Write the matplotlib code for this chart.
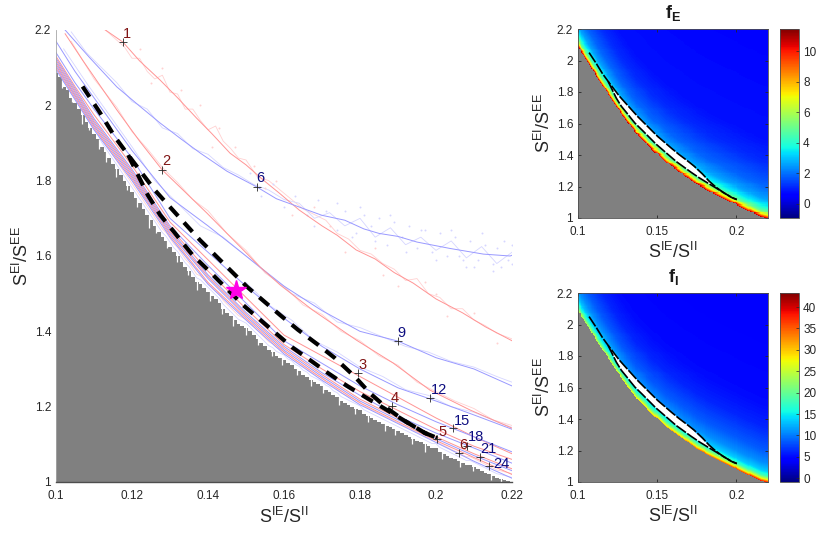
import numpy as np
import matplotlib
matplotlib.use("Agg")
import matplotlib.pyplot as plt

plt.rcParams['font.family'] = ['Liberation Sans', 'DejaVu Sans']
plt.rcParams['mathtext.fontset'] = 'custom'
plt.rcParams['mathtext.rm'] = 'Liberation Sans'
plt.rcParams['mathtext.bf'] = 'Liberation Sans:bold'
plt.rcParams['mathtext.default'] = 'regular'

# ---------- curves ----------
grid_x = [.10, .105, .11, .12, .13, .14, .15, .16, .17, .18, .19, .20, .21, .22]
b9 = [2.17, 2.09, 2.02, 1.88, 1.755, 1.68, 1.60, 1.52, 1.455, 1.40, 1.374, 1.33, 1.30, 1.255]
b12 = [2.14, 2.06, 1.99, 1.86, 1.70, 1.61, 1.52, 1.435, 1.36, 1.30, 1.25, 1.215, 1.178, 1.14]
r3 = [2.13, 2.05, 1.975, 1.84, 1.69, 1.59, 1.49, 1.39, 1.335, 1.28, 1.225, 1.17, 1.12, 1.075]
b15 = [2.125, 2.045, 1.965, 1.83, 1.68, 1.575, 1.475, 1.375, 1.315, 1.255, 1.205, 1.16, 1.12, 1.08]
r4 = [2.12, 2.04, 1.96, 1.825, 1.675, 1.56, 1.46, 1.365, 1.30, 1.24, 1.19, 1.14, 1.095, 1.06]
b18 = [2.115, 2.035, 1.955, 1.82, 1.67, 1.55, 1.45, 1.36, 1.29, 1.23, 1.175, 1.13, 1.09, 1.05]
r5 = [2.11, 2.03, 1.95, 1.815, 1.665, 1.545, 1.445, 1.355, 1.285, 1.22, 1.17, 1.12, 1.075, 1.035]
b21 = [2.105, 2.025, 1.945, 1.81, 1.66, 1.54, 1.44, 1.35, 1.28, 1.215, 1.165, 1.115, 1.07, 1.03]
r6 = [2.10, 2.02, 1.94, 1.805, 1.655, 1.53, 1.435, 1.345, 1.275, 1.21, 1.16, 1.11, 1.065, 1.02]
b24 = [2.095, 2.015, 1.935, 1.80, 1.65, 1.525, 1.43, 1.34, 1.27, 1.205, 1.155, 1.105, 1.055, 1.01]

r1_x = [.113, .1176, .122, .1274, .132, .137, .141, .1458, .150, .1545, .159, .164, .17, .174, .179, .184, .189, .194, .20, .207, .213, .22]
r1_y = [2.2, 2.168, 2.118, 2.067, 2.02, 1.966, 1.925, 1.873, 1.842, 1.802, 1.765, 1.722, 1.68, 1.655, 1.616, 1.592, 1.556, 1.528, 1.486, 1.449, 1.412, 1.375]
b6_x = [.1024, .109, .116, .122, .1274, .133, .138, .145, .1529, .158, .164, .170, .176, .181, .185, .190, .195, .2037, .2125, .2195, .22]
b6_y = [2.2, 2.125, 2.049, 1.998, 1.953, 1.91, 1.873, 1.825, 1.783, 1.752, 1.73, 1.708, 1.695, 1.672, 1.66, 1.652, 1.637, 1.62, 1.605, 1.600, 1.602]
r2_x = [.1024, .107, .116, .122, .128, .1397, .1537, .159, .1676, .179, .1887, .1984, .209, .22]
r2_y = [2.19, 2.12, 1.988, 1.905, 1.828, 1.714, 1.571, 1.523, 1.456, 1.377, 1.316, 1.244, 1.191, 1.143]

r1_pale_x = [.108, .113, .118, .120, .122, .124, .126, .128, .130, .132, .134, .136, .138, .140, .142, .144, .146, .148, .150, .153, .156, .159, .162, .165, .168, .171, .174, .177, .18, .183, .186, .189, .192, .195, .198, .201, .204, .207, .21, .213, .216, .22]
r1_pale_y = [2.215, 2.2, 2.155, 2.125, 2.125, 2.09, 2.07, 2.08, 2.035, 2.03, 1.99, 1.99, 1.96, 1.935, 1.945, 1.905, 1.885, 1.86, 1.855, 1.81, 1.80, 1.775, 1.75, 1.725, 1.71, 1.695, 1.66, 1.645, 1.615, 1.605, 1.58, 1.565, 1.535, 1.54, 1.50, 1.49, 1.46, 1.46, 1.43, 1.415, 1.395, 1.38]
b6_pale_x = [.104, .108, .112, .116, .12, .124, .128, .132, .136, .14, .144, .148, .152, .156, .16, .164, .168, .172, .176, .18, .184, .188, .192, .196, .20, .204, .208, .212, .216, .22]
b6_pale_y = [2.195, 2.14, 2.10, 2.06, 2.01, 1.99, 1.94, 1.925, 1.885, 1.87, 1.835, 1.815, 1.79, 1.775, 1.75, 1.74, 1.70, 1.715, 1.68, 1.70, 1.65, 1.675, 1.63, 1.65, 1.615, 1.64, 1.595, 1.625, 1.58, 1.61]
r2_pale_x = [.104, .11, .116, .12, .124, .128, .132, .136, .14, .145, .15, .155, .16, .165, .17, .175, .18, .185, .19, .195, .20, .205, .21, .215, .22]
r2_pale_y = [2.17, 2.07, 1.995, 1.93, 1.885, 1.835, 1.795, 1.75, 1.72, 1.66, 1.615, 1.555, 1.52, 1.47, 1.445, 1.40, 1.375, 1.335, 1.31, 1.265, 1.24, 1.215, 1.195, 1.165, 1.15]
b9_pale_x = [.102, .108, .114, .12, .126, .132, .138, .144, .15, .156, .162, .168, .174, .18, .186, .192, .198, .204, .21, .216, .22]
b9_pale_y = [2.15, 2.06, 1.975, 1.89, 1.80, 1.74, 1.68, 1.65, 1.60, 1.55, 1.50, 1.475, 1.425, 1.41, 1.385, 1.36, 1.345, 1.32, 1.305, 1.28, 1.265]
b12_pale_x = [.15, .156, .162, .168, .174, .18, .186, .192, .198, .204, .21, .216, .22]
b12_pale_y = [1.53, 1.47, 1.43, 1.375, 1.345, 1.305, 1.28, 1.245, 1.23, 1.20, 1.185, 1.16, 1.145]

dots_blue_x = [.151, .154, .157, .16, .163, .166, .169, .171, .174, .176, .179, .181, .183, .185, .187, .189, .191, .193, .195, .197, .199, .201, .203, .205, .207, .209, .211, .213, .215, .216, .217, .218, .219, .22, .212, .208, .204, .196, .188, .18, .174, .168, .2, .21, .22, .215, .206, .192, .184, .178]
dots_blue_y = [1.82, 1.76, 1.79, 1.73, 1.76, 1.71, 1.75, 1.72, 1.67, 1.72, 1.66, 1.71, 1.68, 1.70, 1.63, 1.69, 1.65, 1.68, 1.62, 1.67, 1.61, 1.66, 1.60, 1.65, 1.59, 1.64, 1.59, 1.63, 1.58, 1.62, 1.57, 1.64, 1.59, 1.58, 1.66, 1.57, 1.67, 1.67, 1.71, 1.73, 1.74, 1.68, 1.59, 1.57, 1.63, 1.56, 1.60, 1.61, 1.64, 1.65]
dots_red_x = [.122, .128, .133, .138, .143, .147, .152, .158, .162, .168, .176, .184, .19, .197, .203, .21, .216, .125, .141, .155, .172, .186, .2]
dots_red_y = [2.15, 2.10, 2.04, 2.00, 1.94, 1.89, 1.84, 1.80, 1.71, 1.73, 1.61, 1.62, 1.52, 1.53, 1.44, 1.45, 1.37, 2.06, 1.89, 1.78, 1.68, 1.55, 1.50]

# dashed closed pair
outer_x = [.107, .1116, .1155, .119, .126, .13, .1379, .1453, .1503, .159, .1637, .169, .1734, .1787, .1826, .1871, .1918, .1971, .2003]
outer_y = [2.05, 1.98, 1.916, 1.868, 1.775, 1.73, 1.642, 1.568, 1.518, 1.443, 1.404, 1.364, 1.329, 1.279, 1.236, 1.196, 1.162, 1.13, 1.117]
inner_x = [.119, .1242, .1274, .1313, .1334, .136, .1405, .1492, .1621, .1668, .1716, .1766, .1818, .1871]
inner_y = [1.868, 1.761, 1.709, 1.661, 1.634, 1.602, 1.558, 1.47, 1.358, 1.324, 1.289, 1.255, 1.223, 1.191]
tail_x = [.1918, .1971, .2003]
tail_y = [1.162, 1.13, 1.117]

star_x, star_y = 0.1475, 1.51

# numbered markers
mark_labels = ['1', '2', '3', '4', '5', '6', '6', '9', '12', '15', '18', '21', '24']
mark_x = [.1176, .128, .1795, .1884, .2003, .206, .1529, .19, .1984, .2045, .2082, .2116, .2139]
mark_y = [2.168, 1.828, 1.289, 1.202, 1.114, 1.077, 1.783, 1.374, 1.223, 1.143, 1.096, 1.066, 1.042]
mark_is_red = [True, True, True, True, True, True, False, False, False, False, False, False, False]
label_dx = [4, 4, 4, 3, 5, 5, 3, 3, 9, 9, 9, 8, 13]
label_dy = [8, 9, 8, 8, 7, 8, 9, 8, 8, 7, 9, 8, 2]

# silent-region boundary, one value per 0.001 of the x axis
bnd_x = np.arange(121) * .001 + .1
bnd_y = [2.085, 2.075, 2.05, 2.04, 2.02, 2.005, 1.99, 1.975, 1.955, 1.94, 1.925,
         1.91, 1.89, 1.875, 1.86, 1.845, 1.83, 1.815, 1.80, 1.785, 1.77,
         1.755, 1.74, 1.725, 1.71, 1.695, 1.68, 1.665, 1.65, 1.64, 1.625,
         1.61, 1.60, 1.585, 1.57, 1.56, 1.545, 1.53, 1.525, 1.515, 1.505,
         1.495, 1.485, 1.475, 1.46, 1.45, 1.44, 1.43, 1.42, 1.415, 1.41,
         1.40, 1.39, 1.38, 1.37, 1.36, 1.35, 1.345, 1.335, 1.33, 1.325,
         1.315, 1.31, 1.30, 1.295, 1.285, 1.28, 1.27, 1.265, 1.26, 1.255,
         1.245, 1.24, 1.23, 1.225, 1.215, 1.21, 1.205, 1.20, 1.195, 1.19,
         1.18, 1.175, 1.17, 1.165, 1.16, 1.155, 1.15, 1.145, 1.14, 1.135,
         1.13, 1.125, 1.12, 1.115, 1.11, 1.105, 1.10, 1.095, 1.09, 1.09,
         1.08, 1.075, 1.07, 1.065, 1.06, 1.055, 1.05, 1.045, 1.045, 1.04,
         1.035, 1.03, 1.025, 1.02, 1.015, 1.01, 1.008, 1.005, 1.003, 1.0]

# white notches in the grey edge: position and lower end
notch_x = [.1015, .1042, .1068, .1087, .1112, .1131, .1158, .1186, .1213, .1244, .1262, .1291, .1318, .1347, .1371, .1404, .1437, .1466, .1499, .1532, .1568, .1596, .1633, .1671, .1702, .1745, .1788, .1822, .1867, .1893, .1938, .1972, .2016, .2063, .2098, .2144, .2172]
notch_y = [2.045, 2.01, 1.95, 1.935, 1.885, 1.85, 1.81, 1.775, 1.73, 1.675, 1.66, 1.62, 1.585, 1.55, 1.51, 1.48, 1.445, 1.415, 1.39, 1.365, 1.335, 1.31, 1.285, 1.255, 1.235, 1.205, 1.18, 1.16, 1.135, 1.125, 1.10, 1.08, 1.06, 1.04, 1.03, 1.005, 1.0]

# rate profile against height above the boundary
dist = [0, .008, .02, .04, .07, .12, .2, .35, .5, 1.3]
fE_profile = [10.8, 9.4, 7.2, 5.0, 3.7, 2.6, 1.85, 1.15, .8, 0.6]
fI_left = [24, 22.5, 19.5, 16, 13, 10.8, 8.6, 6.2, 5.0, 4.2]
fI_right = [39, 34, 26, 18, 13.5, 10.8, 8.6, 6.2, 5.0, 4.2]

xticks_main = [.1, .12, .14, .16, .18, .2, .22]
xtl_main = ['0.1', '0.12', '0.14', '0.16', '0.18', '0.2', '0.22']
yticks = [1, 1.2, 1.4, 1.6, 1.8, 2, 2.2]
ytl = ['1', '1.2', '1.4', '1.6', '1.8', '2', '2.2']
xticks_small = [.1, .15, .2]
xtl_small = ['0.1', '0.15', '0.2']
fE_ticks = [0, 2, 4, 6, 8, 10]
fI_ticks = [0, 5, 10, 15, 20, 25, 30, 35, 40]

W, H = 818, 533
RED, BLUE = (1, .58, .58), (.6, .6, 1)
PRED, PBLUE = (1, .82, .82), (.84, .84, 1)
GRAY = (.5, .5, .5)
EDGE = (.3, .3, .3)
TXT = (.15, .15, .15)
XL = r'$S^{IE}/S^{II}$'
YL = r'$S^{EI}/S^{EE}$'

fig = plt.figure(figsize=(W / 100, H / 100), dpi=100)


def px_axes(x0, x1, y0, y1):
    return fig.add_axes([x0 / W, 1 - y1 / H, (x1 - x0) / W, (y1 - y0) / H])


def style(ax, xt, xtl, tick_len, xpad=5.5, ypad=3.5):
    ax.set_xlim(.1, .22)
    ax.set_ylim(1, 2.2)
    ax.set_xticks(xt, xtl)
    ax.set_yticks(yticks, ytl)
    ax.tick_params(direction='in', length=tick_len, width=.6, top=True, right=True,
                   labelsize=8.5, colors=TXT)
    ax.tick_params(axis='x', pad=xpad)
    ax.tick_params(axis='y', pad=ypad)
    for s in ax.spines.values():
        s.set_color(EDGE)
        s.set_linewidth(.6)
        s.set_zorder(20)


# ---------- main panel ----------
ax = px_axes(56, 512, 30, 482)
ax.fill_between(bnd_x, 1, bnd_y, step='mid', color=GRAY, lw=0, zorder=1)
ax.vlines(notch_x, notch_y, np.interp(notch_x, bnd_x, bnd_y) + .005, color='w', lw=.9, zorder=1.2)
ax.plot(bnd_x, np.array(bnd_y) + .012, color=PBLUE, lw=.6, zorder=1.5)
ax.plot(bnd_x, np.array(bnd_y) + .022, color=PRED, lw=.6, zorder=1.5)
for px, py, c in [(r1_pale_x, r1_pale_y, PRED), (b6_pale_x, b6_pale_y, PBLUE),
                  (r2_pale_x, r2_pale_y, PRED), (b9_pale_x, b9_pale_y, PBLUE),
                  (b12_pale_x, b12_pale_y, PBLUE)]:
    ax.plot(px, py, color=c, lw=.6, zorder=2)
ax.scatter(dots_blue_x, dots_blue_y, s=2, color=PBLUE, lw=0, zorder=2)
ax.scatter(dots_red_x, dots_red_y, s=2, color=PRED, lw=0, zorder=2)
for cy, c in [(b9, BLUE), (b12, BLUE), (r3, RED), (b15, BLUE), (r4, RED), (b18, BLUE),
              (r5, RED), (b21, BLUE), (r6, RED), (b24, BLUE)]:
    ax.plot(grid_x, cy, color=c, lw=.7, zorder=3)
ax.plot(r1_x, r1_y, color=RED, lw=.7, zorder=3)
ax.plot(b6_x, b6_y, color=BLUE, lw=.7, zorder=3)
ax.plot(r2_x, r2_y, color=RED, lw=.7, zorder=3)
ax.plot(outer_x, outer_y, color='k', lw=3, ls=(0, (3.0, 2.1)), zorder=5)
ax.plot(inner_x + tail_x, inner_y + tail_y, color='k', lw=3, ls=(0, (3.0, 2.1)), zorder=5)
ax.plot([star_x], [star_y], marker='*', ms=15, color=(1, 0, .9), mec=(1, 0, .9), zorder=7)
ax.plot(mark_x, mark_y, ls='none', marker='+', ms=5.5, mew=.6, color=TXT, zorder=8)
for t, mx, my, isr, dx, dy in zip(mark_labels, mark_x, mark_y, mark_is_red, label_dx, label_dy):
    ax.annotate(t, (mx, my), xytext=(dx * .72, dy * .72), textcoords='offset points',
                fontsize=10.5, ha='center', va='center',
                color=(.5, .08, .08) if isr else (.05, .05, .5), zorder=9)
style(ax, xticks_main, xtl_main, 0, xpad=6)
ax.spines['top'].set_visible(False)
ax.spines['right'].set_visible(False)
ax.spines['left'].set_color((.65, .65, .65))
ax.spines['bottom'].set_linewidth(1)
ax.set_xlabel(XL, fontsize=13, color=TXT, labelpad=3)
ax.set_ylabel(YL, fontsize=13, color=TXT, labelpad=2)

# ---------- heat panels ----------
gx = np.linspace(.1, .22, 190)
gy = np.linspace(1, 2.2, 190)
X, Y = np.meshgrid(gx, gy)
D = Y - np.interp(X, bnd_x, bnd_y)
T = (X - .1) / .12
cmap = plt.get_cmap('jet').copy()
cmap.set_bad(GRAY)


def heat(y0, y1, F, vmin, vmax, ticks, title):
    a = px_axes(578, 768, y0, y1)
    F = np.ma.masked_where(D < 0, F)
    m = a.pcolormesh(gx, gy, F, cmap=cmap, vmin=vmin, vmax=vmax, shading='nearest', rasterized=True)
    poly_x = outer_x[3:12] + inner_x[::-1]
    poly_y = outer_y[3:12] + inner_y[::-1]
    a.fill(poly_x, poly_y, color='w', lw=0, zorder=3)
    a.plot(outer_x, outer_y, color='k', lw=1.2, ls=(0, (7, 1)), zorder=4)
    a.plot(inner_x + tail_x, inner_y + tail_y, color='k', lw=1.2, ls=(0, (7, 1)), zorder=4)
    style(a, xticks_small, xtl_small, 2)
    a.set_xlabel(XL, fontsize=13, color=TXT, labelpad=3)
    a.set_ylabel(YL, fontsize=13, color=TXT, labelpad=2)
    a.set_title(title, fontsize=13, pad=8, color=(.1, .1, .1))
    c = px_axes(780, 799, y0, y1)
    cb = fig.colorbar(m, cax=c, ticks=ticks)
    cb.ax.tick_params(direction='in', length=2, width=.5, labelsize=8.5, colors=TXT, pad=3)
    cb.outline.set_edgecolor(EDGE)
    cb.outline.set_linewidth(.6)
    return a


heat(29, 218, np.interp(D, dist, fE_profile), -0.93, 11.46, fE_ticks, r'$\mathbf{f_E}$')
heat(293, 482, (1 - T) * np.interp(D, dist, fI_left) + T * np.interp(D, dist, fI_right),
     -0.9, 43.3, fI_ticks, r'$\mathbf{f_I}$')

fig.savefig('out.png', dpi=100)
